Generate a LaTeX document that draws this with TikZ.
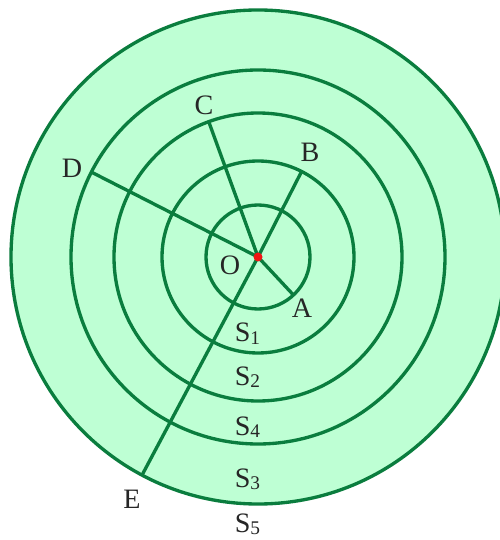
\documentclass[tikz,border=0pt]{standalone}
\usepackage{xcolor}
\usepackage{fontspec}
\setmainfont{Liberation Serif}
\usepackage{tikz}
\usetikzlibrary{positioning, calc}
\definecolor{mygreen}{RGB}{10,125,62}
\definecolor{myfill}{RGB}{190,255,212}
\definecolor{myred}{RGB}{240,20,20}
\newcommand{\ssub}[1]{\raisebox{-1.5pt}{\fontsize{11}{12}\selectfont #1}}
\tikzset{
  ring/.style={draw=mygreen, line width=1.9pt},
  spoke/.style={mygreen, line width=1.9pt},
  lbl/.style={anchor=base, inner sep=0pt, font=\fontsize{16}{19}\selectfont, text=black!85}
}

\begin{document}
\begin{tikzpicture}
  \useasboundingbox (-5.16,-5.66) rectangle (4.84,5.14);

  % Circles
  \fill[myfill] (0,0) circle (4.94);
  \foreach \r in {4.94, 3.74, 2.88, 1.92, 1.04}
    \draw[ring] (0,0) circle (\r);

  % End points on the circles
  \coordinate (O) at (0,0);
  \coordinate (A) at (-47:1.04);
  \coordinate (B) at (63:1.92);
  \coordinate (C) at (110:2.88);
  \coordinate (D) at (153:3.74);
  \coordinate (E) at (-118:4.94);

  % Lines from O
  \draw[spoke] (O) -- (A);
  \draw[spoke] (O) -- (B);
  \draw[spoke] (O) -- (C);
  \draw[spoke] (O) -- (D);
  \draw[spoke] (O) -- (E);
  \fill[myred] (O) circle (0.09);

  % Point labels
  \node[lbl] (labO) at (-0.56,-0.36) {O};
  \node[lbl] (labA) at (0.88,-1.22) {A};
  \node[lbl] (labB) at (1.04,1.90) {B};
  \node[lbl] (labC) at (-1.08,2.84) {C};
  \node[lbl] (labD) at (-3.72,1.58) {D};
  \node[lbl] (labE) at (-2.52,-5.02) {E};

  % Surface labels
  \node[lbl] (s1) at (-0.21,-1.70) {S\ssub{1}};
  \node[lbl] (s2) at (-0.21,-2.56) {S\ssub{2}};
  \node[lbl] (s4) at (-0.21,-3.56) {S\ssub{4}};
  \node[lbl] (s3) at (-0.21,-4.60) {S\ssub{3}};
  \node[lbl] (s5) at (-0.21,-5.50) {S\ssub{5}};
\end{tikzpicture}
\end{document}
